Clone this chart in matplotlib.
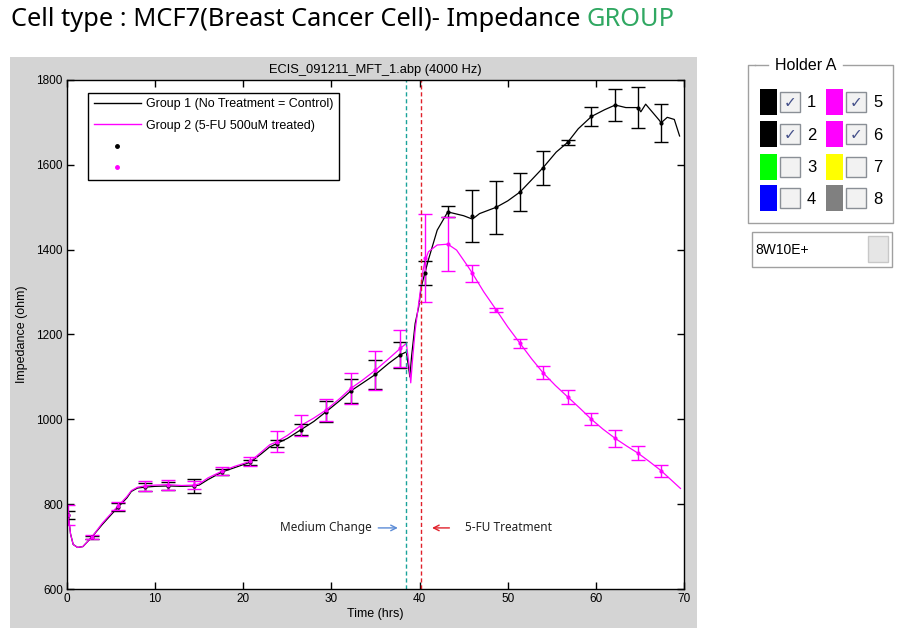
import numpy as np
import matplotlib
matplotlib.use('Agg')
import matplotlib.pyplot as plt
from matplotlib.lines import Line2D
from matplotlib.patches import Rectangle

# error-bar sample times (hrs)
t_err = [0.15, 2.8, 5.8, 8.8, 11.5, 14.4, 17.6, 20.8, 23.8, 26.5, 29.4, 32.2, 35.0,
         37.8, 40.6, 43.2, 46.0, 48.7, 51.4, 54.0, 56.8, 59.5, 62.2, 64.8, 67.4]

g1_mean = [774, 722, 793, 840, 843, 843, 876, 899, 943, 975, 1018, 1067, 1106,
           1152, 1345, 1489, 1479, 1500, 1536, 1593, 1653, 1714, 1741, 1735, 1699]
g1_err = [10, 4, 10, 10, 10, 17, 8, 6, 8, 13, 25, 28, 35,
          30, 28, 13, 62, 62, 45, 40, 6, 23, 38, 49, 45]

g2_mean = [774, 722, 796, 843, 846, 845, 878, 901, 947, 985, 1022, 1073, 1116,
           1167, 1380, 1413, 1344, 1258, 1179, 1110, 1053, 1000, 955, 920, 879]
g2_err = [24, 5, 10, 12, 12, 10, 10, 10, 25, 25, 27, 36, 46,
          43, 103, 64, 20, 4, 10, 16, 16, 14, 20, 17, 14]

# traces
g1_t = [0.0, 0.15, 0.4, 0.7, 1.2, 1.8, 2.8, 4.0, 5.0, 5.8, 6.8, 7.3, 8.0, 8.8, 10.0,
        11.5, 13.0, 14.4, 15.0, 16.0, 17.6, 19.0, 20.8, 22.0, 23.0, 23.8, 25.0, 26.5,
        28.0, 29.4, 31.0, 32.2, 33.5, 35.0, 36.5, 37.8, 38.5, 38.7, 38.9, 39.1, 39.5,
        39.9, 40.2, 40.6, 41.0, 42.0, 43.2, 44.0, 45.0, 46.0, 46.8, 48.7, 50.0, 51.4,
        52.5, 54.0, 55.5, 56.8, 58.0, 59.5, 61.0, 62.2, 63.4, 64.8, 65.1, 65.65, 67.2,
        67.4, 68.1, 68.9, 69.5]
g1_v = [780, 774, 730, 705, 698, 700, 722, 752, 775, 793, 815, 830, 838, 840, 842,
        843, 842, 843, 845, 858, 876, 886, 899, 918, 935, 943, 955, 975,
        995, 1018, 1045, 1067, 1085, 1106, 1132, 1152, 1159, 1130, 1100, 1150, 1226,
        1265, 1313, 1345, 1376, 1446, 1489, 1485, 1480, 1472, 1485, 1500, 1515, 1536,
        1560, 1593, 1630, 1653, 1685, 1714, 1730, 1741, 1735, 1735, 1725, 1743, 1705,
        1699, 1712, 1707, 1668]

g2_t = [0.0, 0.15, 0.4, 0.7, 1.2, 1.8, 2.8, 4.0, 5.0, 5.8, 6.8, 7.3, 8.0, 8.8, 10.0,
        11.5, 13.0, 14.4, 15.0, 16.0, 17.6, 19.0, 20.8, 22.0, 23.0, 23.8, 25.0, 26.5,
        28.0, 29.4, 31.0, 32.2, 33.5, 35.0, 36.5, 37.8, 38.5, 38.8, 39.0, 39.2, 39.5,
        40.0, 40.4, 40.6, 41.0, 42.0, 43.2, 44.2, 45.5, 46.0, 47.3, 48.7, 50.0, 51.4,
        52.7, 54.0, 55.4, 56.8, 58.2, 59.5, 60.8, 62.2, 63.5, 64.8, 66.1, 67.4, 68.5, 69.6]
g2_v = [785, 774, 730, 705, 698, 700, 722, 755, 778, 796, 818, 832, 840, 843, 845,
        846, 844, 845, 848, 862, 878, 889, 901, 922, 940, 947, 962, 985,
        1003, 1022, 1050, 1073, 1092, 1116, 1143, 1167, 1179, 1130, 1086, 1140, 1210,
        1289, 1352, 1372, 1395, 1411, 1413, 1399, 1360, 1344, 1300, 1258, 1218, 1179,
        1143, 1110, 1080, 1053, 1026, 1000, 977, 955, 937, 920, 900, 879, 858, 837]

medium_change_t = 38.5
treatment_t = 40.2

holder_colors = ['#000000', '#000000', '#00ff00', '#0000ff',
                 '#ff00ff', '#ff00ff', '#ffff00', '#808080']
holder_checked = [True, True, False, False, True, True, False, False]

W, H = 899, 631
fig = plt.figure(figsize=(W / 100, H / 100), dpi=100)
fig.patch.set_facecolor('white')

# pixel-space overlay for the gray panel and the holder widget
bg = fig.add_axes([0, 0, 1, 1], zorder=0)
bg.set_xlim(0, W)
bg.set_ylim(H, 0)
bg.axis('off')
bg.add_patch(Rectangle((10, 57), 687, 571, facecolor='#d4d4d4', edgecolor='none'))

# main title
t1 = fig.text(11 / W, 1 - 20 / H, 'Cell type : MCF7(Breast Cancer Cell)- Impedance ',
              fontsize=18.3, family='Noto Sans', va='center', ha='left')
fig.canvas.draw()
bb = t1.get_window_extent()
fig.text(bb.x1 / W, 1 - 20 / H, 'GROUP', fontsize=18.3, family='Noto Sans',
         va='center', ha='left', color='#30a862')

ax = fig.add_axes([67 / W, 1 - 589 / H, 617 / W, 509 / H], zorder=1)
ax.set_facecolor('white')

ax.plot(g1_t, g1_v, color='black', lw=0.9, label='Group 1 (No Treatment = Control)')
ax.plot(g2_t, g2_v, color='#ff00ff', lw=0.9, label='Group 2 (5-FU 500uM treated)')
ax.errorbar(t_err, g1_mean, yerr=g1_err, fmt='.', color='black', ms=4,
            elinewidth=1, capsize=5, capthick=1)
ax.errorbar(t_err, g2_mean, yerr=g2_err, fmt='.', color='#ff00ff', ms=4,
            elinewidth=1, capsize=5, capthick=1)

ax.axvline(medium_change_t, color='#1aa39a', ls=(0, (3, 2)), lw=1)
ax.axvline(treatment_t, color='#e0202a', ls=(0, (3, 2)), lw=1)

ax.annotate('', xy=(37.85, 744), xytext=(35.0, 744),
            arrowprops=dict(arrowstyle='->', color='#5b8bd6', lw=1))
ax.text(34.6, 744, 'Medium Change', ha='right', va='center', fontsize=8.5,
        family='Noto Sans', color='#222222')
ax.annotate('', xy=(41.1, 744), xytext=(43.7, 744),
            arrowprops=dict(arrowstyle='->', color='#e0202a', lw=1))
ax.text(45.1, 744, '5-FU Treatment', ha='left', va='center', fontsize=8.5,
        family='Noto Sans', color='#222222')

ax.set_xlim(0, 70)
ax.set_ylim(600, 1800)
ax.set_xticks([0, 10, 20, 30, 40, 50, 60, 70])
ax.set_yticks([600, 800, 1000, 1200, 1400, 1600, 1800])
ax.tick_params(direction='in', length=5, width=1, top=True, right=True,
               labelsize=8.5, pad=3)
for lab in ax.get_xticklabels() + ax.get_yticklabels():
    lab.set_family('Liberation Sans')
for sp in ax.spines.values():
    sp.set_linewidth(1)
ax.set_title('ECIS_091211_MFT_1.abp (4000 Hz)', fontsize=9.3, family='Liberation Sans', pad=5)
ax.set_xlabel('Time (hrs)', fontsize=9, family='Liberation Sans', labelpad=2)
ax.set_ylabel('Impedance (ohm)', fontsize=9, family='Liberation Sans', labelpad=6)

handles = [Line2D([], [], color='black', lw=1),
           Line2D([], [], color='#ff00ff', lw=1),
           Line2D([], [], color='black', marker='.', ls='none', ms=5),
           Line2D([], [], color='#ff00ff', marker='.', ls='none', ms=5)]
labels = ['Group 1 (No Treatment = Control)', 'Group 2 (5-FU 500uM treated)', '', '']
leg = ax.legend(handles, labels, loc='upper left', bbox_to_anchor=(0.034, 0.975),
                borderaxespad=0, fancybox=False, edgecolor='black', framealpha=1,
                prop={'family': 'Liberation Sans', 'size': 9}, handlelength=3.8,
                labelspacing=0.75, borderpad=0.45, handletextpad=0.4)
leg.get_frame().set_linewidth(1)

# holder panel
bg.plot([755, 768], [65, 65], color='#a0a0a0', lw=1)
bg.plot([843, 893, 893, 748, 748, 755], [65, 65, 223, 223, 65, 65], color='#a0a0a0', lw=1)
bg.text(806, 66, 'Holder A', ha='center', va='center', fontsize=11.5, family='Liberation Sans')
rows_y = [101.7, 134, 166.7, 198.3]
for i in range(8):
    col = i // 4
    y = rows_y[i % 4]
    sx = 760 if col == 0 else 826
    bg.add_patch(Rectangle((sx, y - 13), 16.5, 26, facecolor=holder_colors[i], edgecolor='none'))
    cx = sx + 20
    bg.add_patch(Rectangle((cx, y - 10), 20, 20, facecolor='#f2f2f2', edgecolor='#8a8f96', lw=1))
    if holder_checked[i]:
        bg.text(cx + 10, y + 0.5, '\u2713', ha='center', va='center', fontsize=11,
                color='#44508a', family='DejaVu Sans', fontweight='bold')
    bg.text(sx + 47, y + 1, str(i + 1), ha='left', va='center', fontsize=12,
            family='Liberation Sans')

bg.add_patch(Rectangle((751.5, 231.5), 140, 35, facecolor='white', edgecolor='#a0a0a0', lw=1))
bg.add_patch(Rectangle((868, 236), 20, 26, facecolor='#e6e6e6', edgecolor='#c8c8c8', lw=1))
bg.text(755, 250, '8W10E+', ha='left', va='center', fontsize=10, family='Liberation Sans')

fig.savefig('out.png', dpi=100)
